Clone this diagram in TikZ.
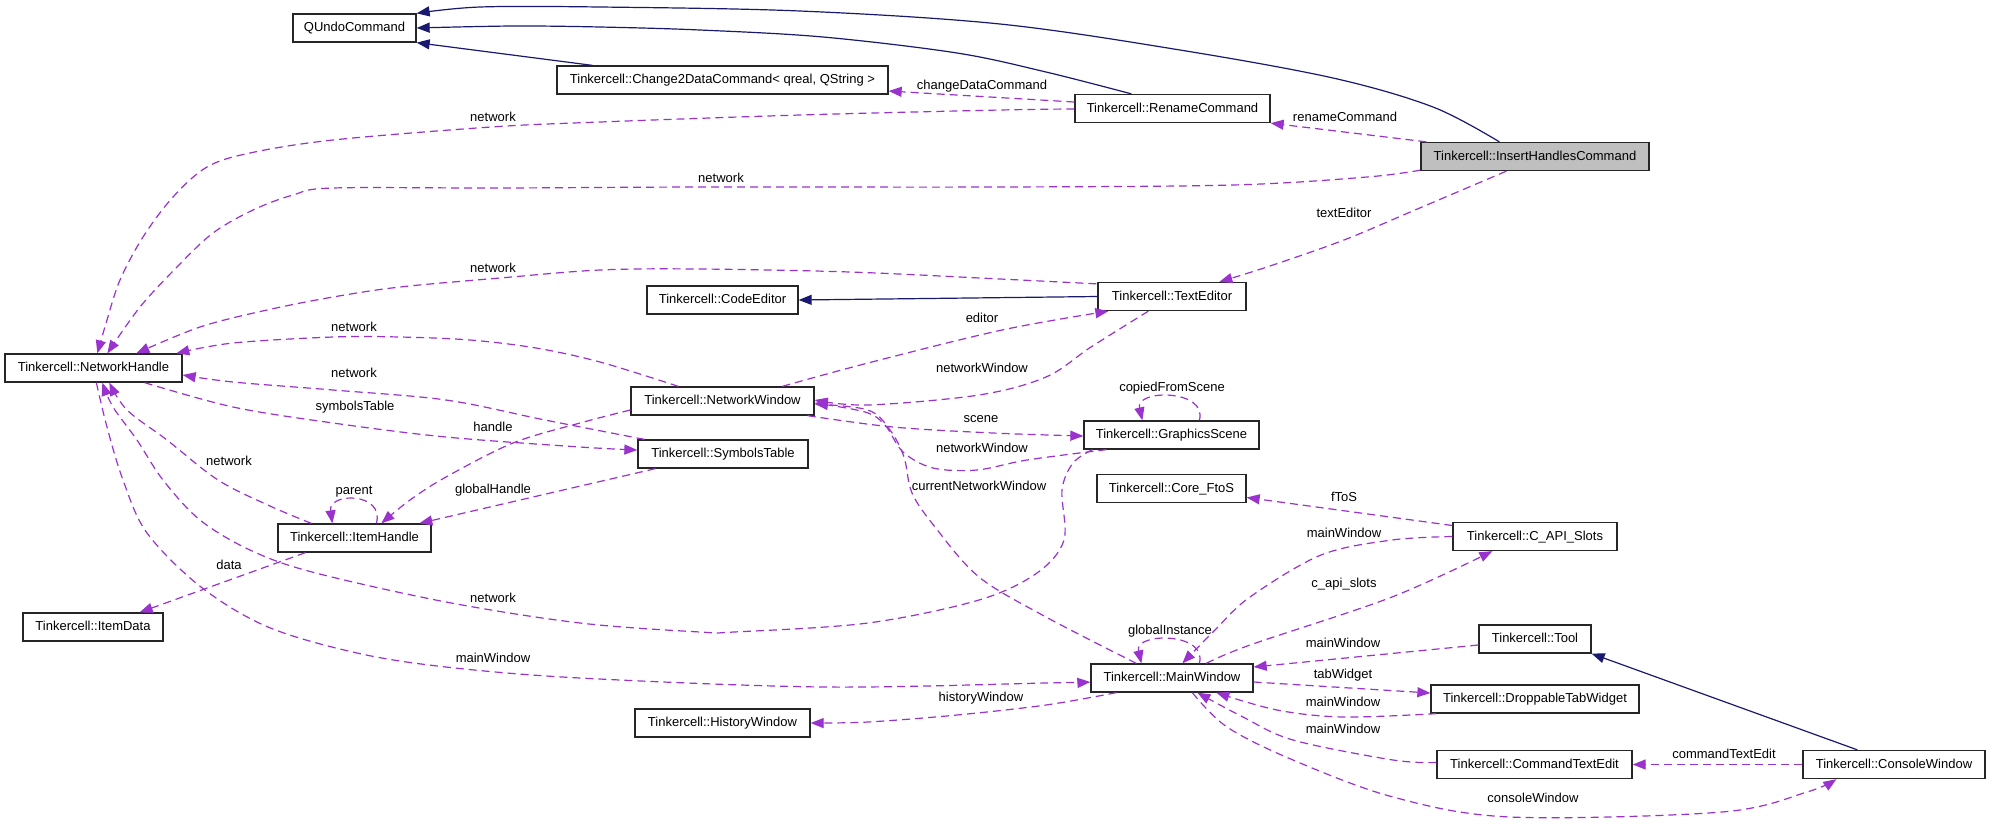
\documentclass[tikz,border=0pt]{standalone}
\usepackage{fontspec}
\setmainfont{Liberation Sans}
\usetikzlibrary{arrows.meta}
\definecolor{navyc}{HTML}{191970}
\definecolor{purpc}{HTML}{9A32CD}
\newcommand\dfont{\fontsize{13}{15}\selectfont}
\tikzset{
  cls/.style={draw=black!85, line width=1.3pt, fill=white, minimum height=28pt, inner sep=0pt,
    font=\dfont, text height=9.5pt, text depth=2.5pt},
  inh/.style={draw=navyc, line width=1.2pt, -{Triangle[length=13pt,width=10pt]}},
  dep/.style={draw=purpc, line width=1.2pt, dash pattern=on 8pt off 5pt, -{Triangle[length=13pt,width=10pt]}},
  lbl/.style={font=\dfont, inner sep=0pt, text height=9.5pt, text depth=0pt},
  sm/.style={smooth, tension=0.55}
}
\begin{document}
\begin{tikzpicture}[x=1pt,y=-1pt]
\fill[white] (0,0) rectangle (1989,823);
\useasboundingbox (0,0) rectangle (1989,823);

% nodes
\node[cls, minimum width=123] (qundo) at (354.5,28) {QUndoCommand};
\node[cls, minimum width=331] (c2d) at (722.5,80) {Tinkercell::Change2DataCommand< qreal, QString >};
\node[cls, minimum width=195] (rename) at (1172.5,108.5) {Tinkercell::RenameCommand};
\node[cls, minimum width=228, fill=gray!50] (insert) at (1535,156.5) {Tinkercell::InsertHandlesCommand};
\node[cls, minimum width=177] (nh) at (93.5,368) {Tinkercell::NetworkHandle};
\node[cls, minimum width=151] (codeed) at (722.5,300) {Tinkercell::CodeEditor};
\node[cls, minimum width=148] (texted) at (1172,296.5) {Tinkercell::TextEditor};
\node[cls, minimum width=183] (netwin) at (722.5,401) {Tinkercell::NetworkWindow};
\node[cls, minimum width=170] (symtab) at (723,454) {Tinkercell::SymbolsTable};
\node[cls, minimum width=175] (gscene) at (1171.5,435) {Tinkercell::GraphicsScene};
\node[cls, minimum width=149] (ftos) at (1171.5,488.5) {Tinkercell::Core\_FtoS};
\node[cls, minimum width=153] (itemh) at (354.5,538) {Tinkercell::ItemHandle};
\node[cls, minimum width=140] (itemd) at (93,627) {Tinkercell::ItemData};
\node[cls, minimum width=162] (mainwin) at (1172,678) {Tinkercell::MainWindow};
\node[cls, minimum width=175] (histwin) at (722.5,723) {Tinkercell::HistoryWindow};
\node[cls, minimum width=164] (capi) at (1535,536.5) {Tinkercell::C\_API\_Slots};
\node[cls, minimum width=112] (tool) at (1535,639) {Tinkercell::Tool};
\node[cls, minimum width=208] (droptab) at (1535,699) {Tinkercell::DroppableTabWidget};
\node[cls, minimum width=195] (cmdtext) at (1534.5,764.5) {Tinkercell::CommandTextEdit};
\node[cls, minimum width=182] (console) at (1894,764.5) {Tinkercell::ConsoleWindow};

% inheritance
\draw[inh] plot[sm] coordinates {([xshift=79pt]insert.north west) (1433,107) (1333,78) (1180,50) (1000,24) (800,11) (600,7) (480,7) (qundo.north east)};
\draw[inh] plot[sm] coordinates {([xshift=57pt]rename.north west) (1046,72) (957,53) (823,37) (700,30) (600,27) (513,26) (qundo.east)};
\draw[inh] ([xshift=36pt]c2d.north west) -- (qundo.south east);
\draw[inh] (texted.west) -- (codeed.east);
\draw[inh] ([xshift=55pt]console.north west) -- (tool.south east);

% dependencies
\draw[dep] ([yshift=6.5pt]rename.west) -- ([yshift=-11pt]c2d.east);
\node[lbl] (l1) at (982,85) {changeDataCommand};
\draw[dep] ([xshift=6pt]insert.north west) -- (rename.south east);
\node[lbl] (l2) at (1345,117) {renameCommand};
\draw[dep] plot[sm] coordinates {([yshift=-0.5pt]rename.west) (1000,110) (800,115) (600,122) (491,127) (333,140) (250,153) (207,167) (173,197) (143,237) (120,280) (107,320) ([xshift=93pt]nh.north west)};
\node[lbl] (l3) at (493,117) {network};
\draw[dep] plot[sm] coordinates {([yshift=1pt]insert.south west) (1367,177) (1233,185) (1000,187) (700,187) (500,188) (333,188) (293,195) (253,210) (213,233) (177,267) (140,307) ([xshift=103pt]nh.north west)};
\node[lbl] (l4) at (721,178) {network};
\draw[dep] plot[sm] coordinates {([xshift=86pt]insert.south west) (1415,210) (1344,240) (1270,266) ([xshift=122pt]texted.north west)};
\node[lbl] (l5) at (1344,213) {textEditor};
\draw[dep] plot[sm] coordinates {([xshift=-1pt,yshift=-2pt]texted.north west) (1000,279) (850,272) (700,269) (600,270) (500,278) (400,287) (333,297) (267,310) (200,327) ([xshift=132pt]nh.north west)};
\node[lbl] (l6) at (493,268) {network};
\draw[dep] plot[sm] coordinates {([xshift=48pt]netwin.north west) (600,362) (536,348) (470,340) (400,337) (333,337) (233,343) ([xshift=172pt]nh.north west)};
\node[lbl] (l7) at (354,327) {network};
\draw[dep] plot[sm] coordinates {([xshift=152pt]netwin.north west) (868,363) (1002,330) ([xshift=11pt]texted.south west)};
\node[lbl] (l8) at (982,318) {editor};
\draw[dep] plot[sm] coordinates {([xshift=51pt]texted.south west) (1091,347) (1046,377) (979,395) (868,405) ([yshift=1pt]netwin.east)};
\node[lbl] (l9) at (982,368) {networkWindow};
\draw[dep] plot[sm] coordinates {([xshift=7pt]symtab.north west) (545,420) (446,400) (333,390) (233,382) ([yshift=-7pt]nh.east)};
\node[lbl] (l10) at (354,373) {network};
\draw[dep] plot[sm] coordinates {([xshift=-38pt]nh.south east) (233,407) (333,423) (446,437) (580,447) ([yshift=4pt]symtab.west)};
\node[lbl] (l11) at (355,406) {symbolsTable};
\draw[dep] plot[sm] coordinates {([yshift=-9pt]netwin.west) (580,423) (513,443) (446,477) (410,500) ([xshift=104pt]itemh.north west)};
\node[lbl] (l12) at (493,427) {handle};
\draw[dep] ([xshift=18pt]symtab.south west) -- ([xshift=142pt]itemh.north west);
\node[lbl] (l13) at (493,489) {globalHandle};
\draw[dep] plot[sm] coordinates {([xshift=34pt]itemh.north west) (270,506) (218,480) (167,440) (127,410) ([xshift=105pt]nh.south west)};
\node[lbl] (l14) at (229,461) {network};
\draw[dep] ([xshift=99pt]itemh.north west) .. controls (385,492) and (328,492) .. ([xshift=55pt]itemh.north west);
\node[lbl] (l15) at (354,490) {parent};
\draw[dep] ([xshift=28pt]itemh.south west) -- ([xshift=-24pt]itemd.north east);
\node[lbl] (l16) at (229,565) {data};
\draw[dep] plot[sm] coordinates {([xshift=9pt]gscene.south west) (1073,463) (1062,490) (1064,540) (1037,573) (979,600) (868,623) (734,632) (700,632) (580,623) (446,602) (312,572) (250,550) (200,520) (163,480) (137,440) (113,407) ([xshift=98pt]nh.south west)};
\node[lbl] (l17) at (493,598) {network};
\draw[dep] plot[sm] coordinates {([xshift=92pt]nh.south west) (107,427) (123,480) (147,533) (201,587) (268,627) (357,653) (446,667) (580,678) (823,687) (1046,683) ([yshift=-4pt]mainwin.west)};
\node[lbl] (l18) at (493,658) {mainWindow};
\draw[dep] plot[sm] coordinates {([xshift=-7pt]netwin.south east) (893,427) (993,433) ([yshift=-1pt]gscene.west)};
\node[lbl] (l19) at (981,418) {scene};
\draw[dep] plot[sm] coordinates {([xshift=23pt]gscene.south west) (1027,460) (977,470) (933,468) (903,452) (885,425) (865,412) ([yshift=-2pt]netwin.east)};
\node[lbl] (l20) at (982,448) {networkWindow};
\draw[dep] ([xshift=116pt]gscene.north west) .. controls (1208,389) and (1135,389) .. ([xshift=59pt]gscene.north west);
\node[lbl] (l21) at (1172,387) {copiedFromScene};
\draw[dep] plot[sm] coordinates {([xshift=46pt]mainwin.north west) (1046,617) (979,577) (935,527) (912,493) (904,457) (890,430) (868,410) ([yshift=-3pt]netwin.east)};
\node[lbl] (l22) at (979,486) {currentNetworkWindow};
\draw[dep] ([xshift=109pt]mainwin.north west) .. controls (1208,632) and (1134,632) .. ([xshift=51pt]mainwin.north west);
\node[lbl] (l23) at (1170,630) {globalInstance};
\draw[dep] ([yshift=11pt]capi.west) -- ([yshift=-9pt]ftos.east);
\node[lbl] (l24) at (1344,497) {fToS};
\draw[dep] plot[sm] coordinates {(capi.west) (1392,540) (1321,555) (1250,597) (1215,630) ([xshift=92pt]mainwin.north west)};
\node[lbl] (l25) at (1344,533) {mainWindow};
\draw[dep] plot[sm] coordinates {([xshift=116pt]mainwin.north west) (1250,645) (1392,597) ([xshift=40pt]capi.south west)};
\node[lbl] (l26) at (1344,583) {c\_api\_slots};
\draw[dep] ([yshift=-6pt]tool.west) -- ([yshift=11pt]mainwin.east);
\node[lbl] (l27) at (1343,643) {mainWindow};
\draw[dep] ([yshift=-4pt]mainwin.east) -- ([yshift=6pt]droptab.west);
\node[lbl] (l28) at (1343,674) {tabWidget};
\draw[dep] plot[sm] coordinates {([xshift=6pt]droptab.south west) (1343,717) (1277,710) ([xshift=126pt]mainwin.south west)};
\node[lbl] (l29) at (1343,702) {mainWindow};
\draw[dep] plot[sm] coordinates {([yshift=2pt]cmdtext.west) (1393,760) (1293,740) (1243,717) ([xshift=107pt]mainwin.south west)};
\node[lbl] (l30) at (1343,729) {mainWindow};
\draw[dep] (console.west) -- (cmdtext.east);
\node[lbl] (l31) at (1724,754) {commandTextEdit};
\draw[dep] plot[sm] coordinates {([xshift=102pt]mainwin.south west) (1227,727) (1293,760) (1393,797) (1510,817) (1722,812) (1807,792) ([xshift=34pt]console.south west)};
\node[lbl] (l32) at (1533,798) {consoleWindow};
\draw[dep] plot[sm] coordinates {([xshift=26pt]mainwin.south west) (1046,705) (957,715) (868,722) (histwin.east)};
\node[lbl] (l33) at (981,697) {historyWindow};
\end{tikzpicture}
\end{document}
